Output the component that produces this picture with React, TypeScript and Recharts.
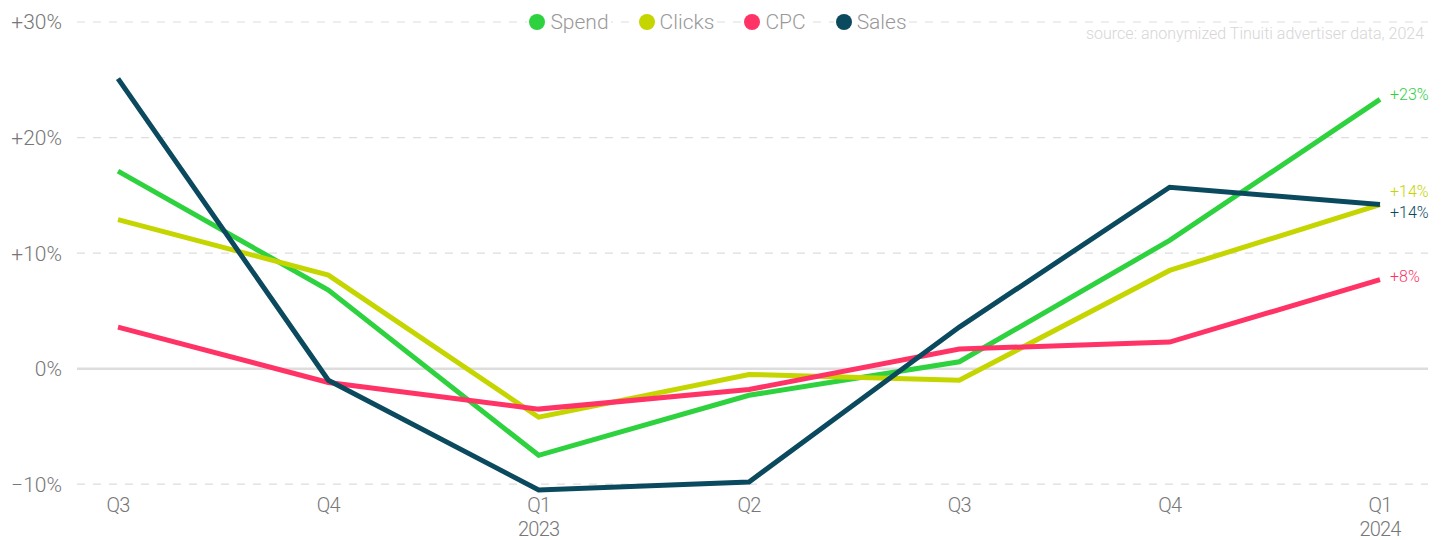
import React from 'react';
import {
  LineChart,
  Line,
  XAxis,
  YAxis,
  CartesianGrid,
  ReferenceLine,
  LabelList,
} from 'recharts';

const quarters = ['Q3', 'Q4', 'Q1', 'Q2', 'Q3', 'Q4', 'Q1'];
const years = ['', '', '2023', '', '', '', '2024'];

const spend = [17.1, 6.8, -7.5, -2.3, 0.6, 11.1, 23.3];
const clicks = [12.9, 8.1, -4.2, -0.5, -1.0, 8.5, 14.2];
const cpc = [3.6, -1.2, -3.5, -1.8, 1.7, 2.3, 7.7];
const sales = [25.1, -1.0, -10.5, -9.8, 3.6, 15.7, 14.2];

const yTicks = [-10, 0, 10, 20, 30];

const series = [
  { key: 'spend', name: 'Spend', color: '#2ed13e', dy: -4 },
  { key: 'clicks', name: 'Clicks', color: '#c5d500', dy: -13 },
  { key: 'cpc', name: 'CPC', color: '#ff3366', dy: -3 },
  { key: 'sales', name: 'Sales', color: '#0b4a5e', dy: 8 },
];

const data = quarters.map((q, i) => ({
  idx: i,
  q,
  year: years[i],
  spend: spend[i],
  clicks: clicks[i],
  cpc: cpc[i],
  sales: sales[i],
}));

const FONT = 'Roboto, "Noto Sans", sans-serif';

const fmtPct = (v: number) => (v === 0 ? '0%' : v > 0 ? `+${v}%` : `\u2212${Math.abs(v)}%`);

const XTick = (props: any) => {
  const { x, y, payload } = props;
  const d = data[payload.value];
  return (
    <g transform={`translate(${x},${y})`}>
      <text textAnchor="middle" y={12} fill="#777" fontSize={20} fontWeight={300} fontFamily={FONT} style={{ letterSpacing: '-0.8px' }}>
        {d ? d.q : ''}
      </text>
      {d && d.year ? (
        <text textAnchor="middle" y={36} fill="#777" fontSize={20} fontWeight={300} fontFamily={FONT} style={{ letterSpacing: '-0.8px' }}>
          {d.year}
        </text>
      ) : null}
    </g>
  );
};

const endLabel = (color: string, dy: number) => (props: any) => {
  const { x, y, index, value } = props;
  if (index !== data.length - 1) return null;
  return (
    <text x={x + 10} y={y + dy} dy={5} fill={color} fontSize={16} fontWeight={300} fontFamily={FONT}>
      {`+${Math.round(value)}%`}
    </text>
  );
};

export default function App() {
  return (
    <div style={{ position: 'relative', width: 1444, height: 540, background: '#fff', fontFamily: FONT }}>
      <style>{'body{margin:0}'}</style>
      <LineChart width={1444} height={540} data={data} margin={{ top: 22, right: 16, bottom: 20, left: 0 }}>
        <CartesianGrid
          vertical={false}
          stroke="#ddd"
          strokeDasharray="8 8"
          strokeWidth={1.2}
          syncWithTicks
        />
        <ReferenceLine y={0} stroke="#ddd" strokeWidth={2.5} />
        <XAxis
          dataKey="idx"
          type="number"
          domain={[0, 6]}
          ticks={[0, 1, 2, 3, 4, 5, 6]}
          padding={{ left: 41, right: 48 }}
          height={30}
          axisLine={false}
          tickLine={false}
          tick={<XTick />}
          tickMargin={4}
        />
        <YAxis
          domain={[-10.5, 30]}
          ticks={yTicks}
          width={77}
          axisLine={false}
          tickLine={false}
          tickMargin={9}
          tickFormatter={fmtPct}
          tick={{ fill: '#777', fontSize: 21, fontWeight: 300, fontFamily: FONT }}
        />
        {series.map((s) => (
          <Line
            key={s.key}
            dataKey={s.key}
            name={s.name}
            stroke={s.color}
            strokeWidth={5}
            dot={false}
            activeDot={false}
            isAnimationActive={false}
          >
            <LabelList dataKey={s.key} content={endLabel(s.color, s.dy)} />
          </Line>
        ))}
      </LineChart>
      <div
        style={{
          position: 'absolute',
          left: 0,
          top: 8,
          width: 1436,
          display: 'flex',
          justifyContent: 'center',
          gap: 26,
        }}
      >
        {series.map((s) => (
          <div
            key={s.key}
            style={{ display: 'flex', alignItems: 'center', background: '#fff', padding: '0 2px', height: 28 }}
          >
            <span
              style={{
                width: 16,
                height: 16,
                borderRadius: 8,
                background: s.color,
                display: 'inline-block',
                marginRight: 5,
              }}
            />
            <span style={{ color: '#999', fontSize: 21, fontWeight: 300 }}>{s.name}</span>
          </div>
        ))}
      </div>
      <div
        style={{
          position: 'absolute',
          right: 20,
          top: 24,
          color: '#d6d6d6',
          fontSize: 16,
          fontWeight: 300,
        }}
      >
        source: anonymized Tinuiti advertiser data, 2024
      </div>
    </div>
  );
}
